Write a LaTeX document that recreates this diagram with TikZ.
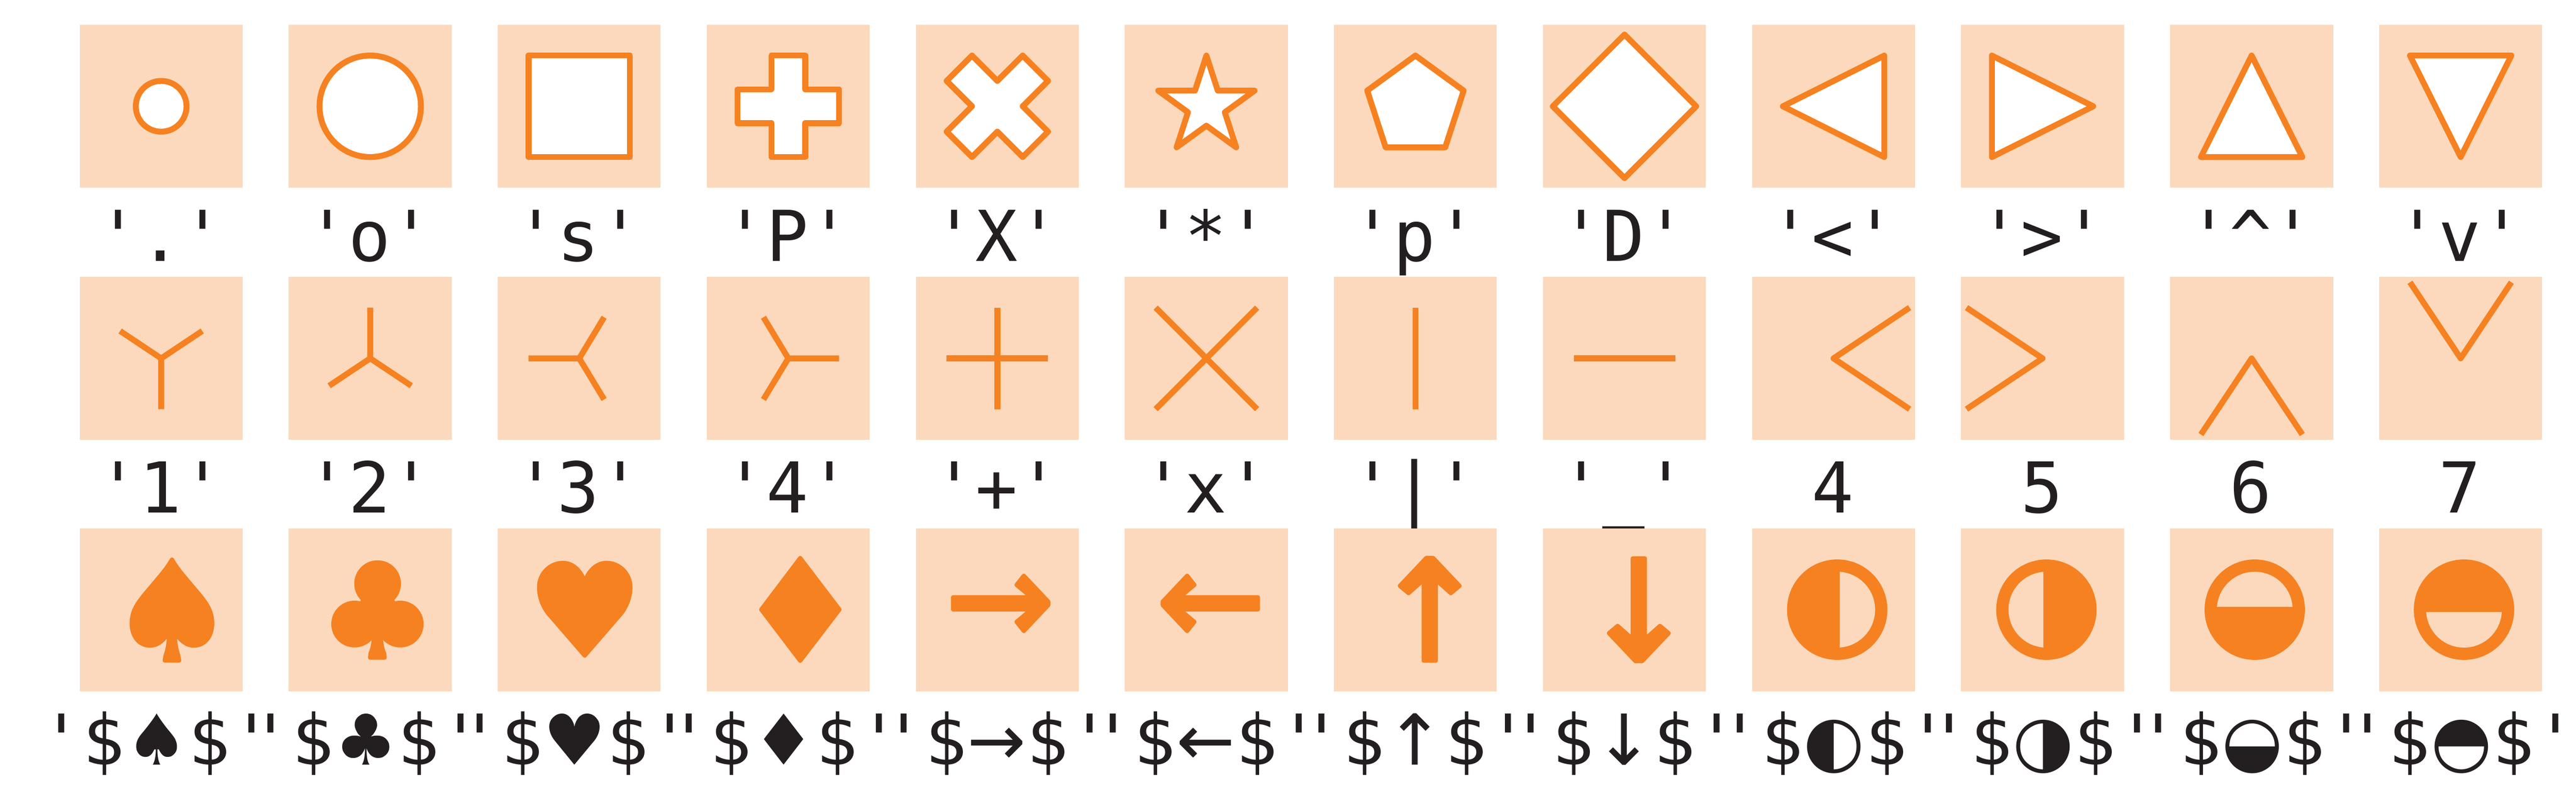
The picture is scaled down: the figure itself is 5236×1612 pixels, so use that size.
\documentclass[tikz,border=0pt]{standalone}
\usepackage{fontspec}
\newfontfamily\lblfont{DejaVu Sans Mono}
\newfontfamily\symfont{DejaVu Sans}
\definecolor{panelc}{HTML}{FCD9BC}
\definecolor{mkc}{HTML}{F68121}
\definecolor{inkc}{HTML}{231F20}
\tikzset{
  panel/.style={fill=panelc,draw=none,minimum size=3.31cm,inner sep=0pt,outer sep=0pt},
  lbl/.style={anchor=base,inner sep=0pt,outer sep=0pt,text=inkc,font={\fontsize{40.5}{48}\selectfont\lblfont}},
  rowa/.style={fill=white,draw=mkc,line width=3.4pt,line join=round},
  rowb/.style={draw=mkc,line width=3.4pt,line join=round,line cap=butt},
  rowc/.style={fill=mkc,draw=mkc,line width=2.3pt,line join=round},
}
\newcommand{\mrk}[3]{\pgfmathsetmacro\mx{327.6+424.9*#1}\begin{scope}[shift={(\mx,#2)},x=1.03cm,y=1.03cm]#3\end{scope}}
\newcommand{\lab}[4]{\pgfmathsetmacro\mx{326+424.9*#1}\node[lbl] (#2) at (\mx,#3) {#4};}
\newcommand{\slab}[5]{\pgfmathsetmacro\mx{327.6+424.9*#1+#3}\node[lbl] (#2) at (\mx,1553) {'\$\makebox[#4cm][c]{\symfont #5}\$'};}
\newcommand{\halfdisc}[7]{\fill[mkc] (#1,#2) circle[radius=102];\begin{scope}\clip (#3,#4) rectangle (#5,#6);\fill[panelc] (#1,#2) circle[radius=#7];\end{scope}}
\begin{document}
\begin{tikzpicture}[x=0.01cm,y=-0.01cm]
\useasboundingbox (0,0) rectangle (5236,1612);
\fill[white] (0,0) rectangle (5236,1612);
% labels first: the panels lie over them
\lab{0}{la0}{530}{'.'} \lab{1}{la1}{530}{'o'} \lab{2}{la2}{530}{'s'} \lab{3}{la3}{530}{'P'}
\lab{4}{la4}{530}{'X'} \lab{5}{la5}{530}{'*'} \lab{6}{la6}{530}{'p'} \lab{7}{la7}{530}{'D'}
\lab{8}{la8}{530}{'<'} \lab{9}{la9}{530}{'>'} \lab{10}{la10}{530}{'\symbol{"5E}'} \lab{11}{la11}{530}{'v'}
\lab{0}{lb0}{1041.5}{'1'} \lab{1}{lb1}{1041.5}{'2'} \lab{2}{lb2}{1041.5}{'3'} \lab{3}{lb3}{1041.5}{'4'}
\lab{4}{lb4}{1041.5}{'+'} \lab{5}{lb5}{1041.5}{'x'} \lab{6}{lb6}{1041.5}{'|'} \lab{7}{lb7}{1041.5}{'\symbol{"5F}'}
\lab{8}{lb8}{1041.5}{4} \lab{9}{lb9}{1041.5}{5} \lab{10}{lb10}{1041.5}{6} \lab{11}{lb11}{1041.5}{7}
\slab{0}{lc0}{-9}{1.29}{♠} \slab{1}{lc1}{-9}{1.29}{♣} \slab{2}{lc2}{-9}{1.29}{♥} \slab{3}{lc3}{-9}{1.29}{♦}
\slab{4}{lc4}{-1}{1.21}{→} \slab{5}{lc5}{-1}{1.21}{←} \slab{6}{lc6}{-1}{1.21}{↑} \slab{7}{lc7}{-1}{1.21}{↓}
\slab{8}{lc8}{1.5}{1.25}{◐} \slab{9}{lc9}{1.5}{1.25}{◑} \slab{10}{lc10}{1.5}{1.25}{◒} \slab{11}{lc11}{1.5}{1.25}{◓}
% panels
\foreach \rowy/\rn in {215.9/a,727.9/b,1239/c}{
  \foreach \c in {0,...,11}{
    \pgfmathsetmacro\mx{327.6+424.9*\c}
    \node[panel] (p\rn\c) at (\mx,\rowy) {};
  }
}
% row 1
\mrk{0}{215.9}{\draw[rowa] (0,0) circle[radius=.5];}
\mrk{1}{215.9}{\draw[rowa] (0,0) circle[radius=1];}
\mrk{2}{215.9}{\draw[rowa] (-1,-1) rectangle (1,1);}
\mrk{3}{215.9}{\draw[rowa] (-1/3,1)--(1/3,1)--(1/3,1/3)--(1,1/3)--(1,-1/3)--(1/3,-1/3)--(1/3,-1)--(-1/3,-1)--(-1/3,-1/3)--(-1,-1/3)--(-1,1/3)--(-1/3,1/3)--cycle;}
\mrk{4}{215.9}{\draw[rowa] (-.5,-1)--(0,-.5)--(.5,-1)--(1,-.5)--(.5,0)--(1,.5)--(.5,1)--(0,.5)--(-.5,1)--(-1,.5)--(-.5,0)--(-1,-.5)--cycle;}
\mrk{5}{215.9}{\draw[rowa] (90:1)--(126:.382)--(162:1)--(198:.382)--(234:1)--(270:.382)--(306:1)--(342:.382)--(18:1)--(54:.382)--cycle;}
\mrk{6}{215.9}{\draw[rowa] (90:1)--(162:1)--(234:1)--(306:1)--(18:1)--cycle;}
\mrk{7}{215.9}{\draw[rowa] (0,1.414)--(1.414,0)--(0,-1.414)--(-1.414,0)--cycle;}
\mrk{8}{215.9}{\draw[rowa] (-1,0)--(1,1)--(1,-1)--cycle;}
\mrk{9}{215.9}{\draw[rowa] (1,0)--(-1,1)--(-1,-1)--cycle;}
\mrk{10}{215.9}{\draw[rowa] (0,1)--(-1,-1)--(1,-1)--cycle;}
\mrk{11}{215.9}{\draw[rowa] (0,-1)--(-1,1)--(1,1)--cycle;}
% row 2
\mrk{0}{727.9}{\draw[rowb] (0,0)--(0,-1) (0,0)--(.81,.54) (0,0)--(-.81,.54);}
\mrk{1}{727.9}{\draw[rowb] (0,0)--(0,1) (0,0)--(.81,-.54) (0,0)--(-.81,-.54);}
\mrk{2}{727.9}{\draw[rowb] (0,0)--(-1,0) (0,0)--(.49,.81) (0,0)--(.49,-.81);}
\mrk{3}{727.9}{\draw[rowb] (0,0)--(1,0) (0,0)--(-.49,.81) (0,0)--(-.49,-.81);}
\mrk{4}{727.9}{\draw[rowb] (-1,0)--(1,0) (0,-1)--(0,1);}
\mrk{5}{727.9}{\draw[rowb] (-1,-1)--(1,1) (-1,1)--(1,-1);}
\mrk{6}{727.9}{\draw[rowb] (0,-1)--(0,1);}
\mrk{7}{727.9}{\draw[rowb] (-1,0)--(1,0);}
\mrk{8}{727.9}{\draw[rowb] (1.5,1)--(0,0)--(1.5,-1);}
\mrk{9}{727.9}{\draw[rowb] (-1.5,1)--(0,0)--(-1.5,-1);}
\mrk{10}{727.9}{\draw[rowb] (-1,-1.5)--(0,0)--(1,-1.5);}
\mrk{11}{727.9}{\draw[rowb] (-1,1.5)--(0,0)--(1,1.5);}
% row 3: spade
\draw[rowc] (349.5,1136) .. controls (338,1156) and (325,1170) .. (310,1188)
  .. controls (285,1218) and (267.5,1235) .. (267.5,1266)
  .. controls (267.5,1293) and (283,1311.5) .. (305,1311.5)
  .. controls (322,1311.5) and (336,1298) .. (343.5,1282)
  .. controls (343.5,1305) and (341,1318) .. (336.5,1331)
  -- (334.5,1341.7) -- (364.5,1341.7) -- (362.5,1331)
  .. controls (358,1318) and (355.5,1305) .. (355.5,1282)
  .. controls (363,1298) and (377,1311.5) .. (394,1311.5)
  .. controls (416,1311.5) and (431.5,1293) .. (431.5,1266)
  .. controls (431.5,1235) and (414,1218) .. (389,1188)
  .. controls (374,1170) and (361,1156) .. cycle;
% club
\fill[mkc] (767.5,1185.5) circle[radius=47.5];
\fill[mkc] (720.8,1267.5) circle[radius=47.5];
\fill[mkc] (813.5,1267.5) circle[radius=47.5];
\fill[mkc] (733,1219)--(802,1219)--(815,1280)--(777,1299)--(757,1299)--(720,1280)--cycle;
\draw[rowc] (760,1285) .. controls (760,1305) and (757,1318) .. (753,1327)
  -- (752,1336) -- (782,1336) -- (781,1327) .. controls (777,1318) and (774,1305) .. (774,1285) -- cycle;
% heart
\draw[rowc] (1188.5,1182) .. controls (1182,1160) and (1165,1143) .. (1144,1143)
  .. controls (1118,1143) and (1095.5,1165) .. (1095.5,1192.5)
  .. controls (1095.5,1215) and (1105,1235) .. (1115,1247)
  -- (1188.5,1332) -- (1262,1247)
  .. controls (1272,1235) and (1281.5,1215) .. (1281.5,1192.5)
  .. controls (1281.5,1165) and (1259,1143) .. (1233,1143)
  .. controls (1212,1143) and (1195,1160) .. cycle;
% diamond
\draw[rowc] (1626.5,1133)--(1706.5,1238)--(1626.5,1342.5)--(1547,1238)--cycle;
% arrows
\draw[rowc] (1937,1213)--(2096,1213)--(2066,1188)--(2081,1169)--(2131,1222)--(2131,1229)--(2081,1282)--(2066,1263)--(2096,1238)--(1937,1238)--cycle;
\draw[rowc] (2557,1213)--(2398,1213)--(2428,1188)--(2413,1169)--(2363,1222)--(2363,1229)--(2413,1282)--(2428,1263)--(2398,1238)--(2557,1238)--cycle;
\draw[rowc] (2893.5,1342)--(2893.5,1178)--(2863,1205)--(2845,1190)--(2899,1133)--(2913,1133)--(2967,1190)--(2949,1205)--(2918.5,1178)--(2918.5,1342)--cycle;
\draw[rowc] (3318.5,1134)--(3318.5,1298)--(3288,1271)--(3270,1286)--(3324,1343)--(3338,1343)--(3392,1286)--(3374,1271)--(3343.5,1298)--(3343.5,1134)--cycle;
% half discs
\halfdisc{3734.3}{1238.3}{3739.3}{1100}{3900}{1400}{77}
\halfdisc{4159.5}{1238.3}{4000}{1100}{4153.4}{1400}{77}
\halfdisc{4583}{1238.3}{4450}{1100}{4700}{1231.5}{77}
\halfdisc{5008.3}{1238.3}{4880}{1244}{5130}{1400}{77}
\end{tikzpicture}
\end{document}
